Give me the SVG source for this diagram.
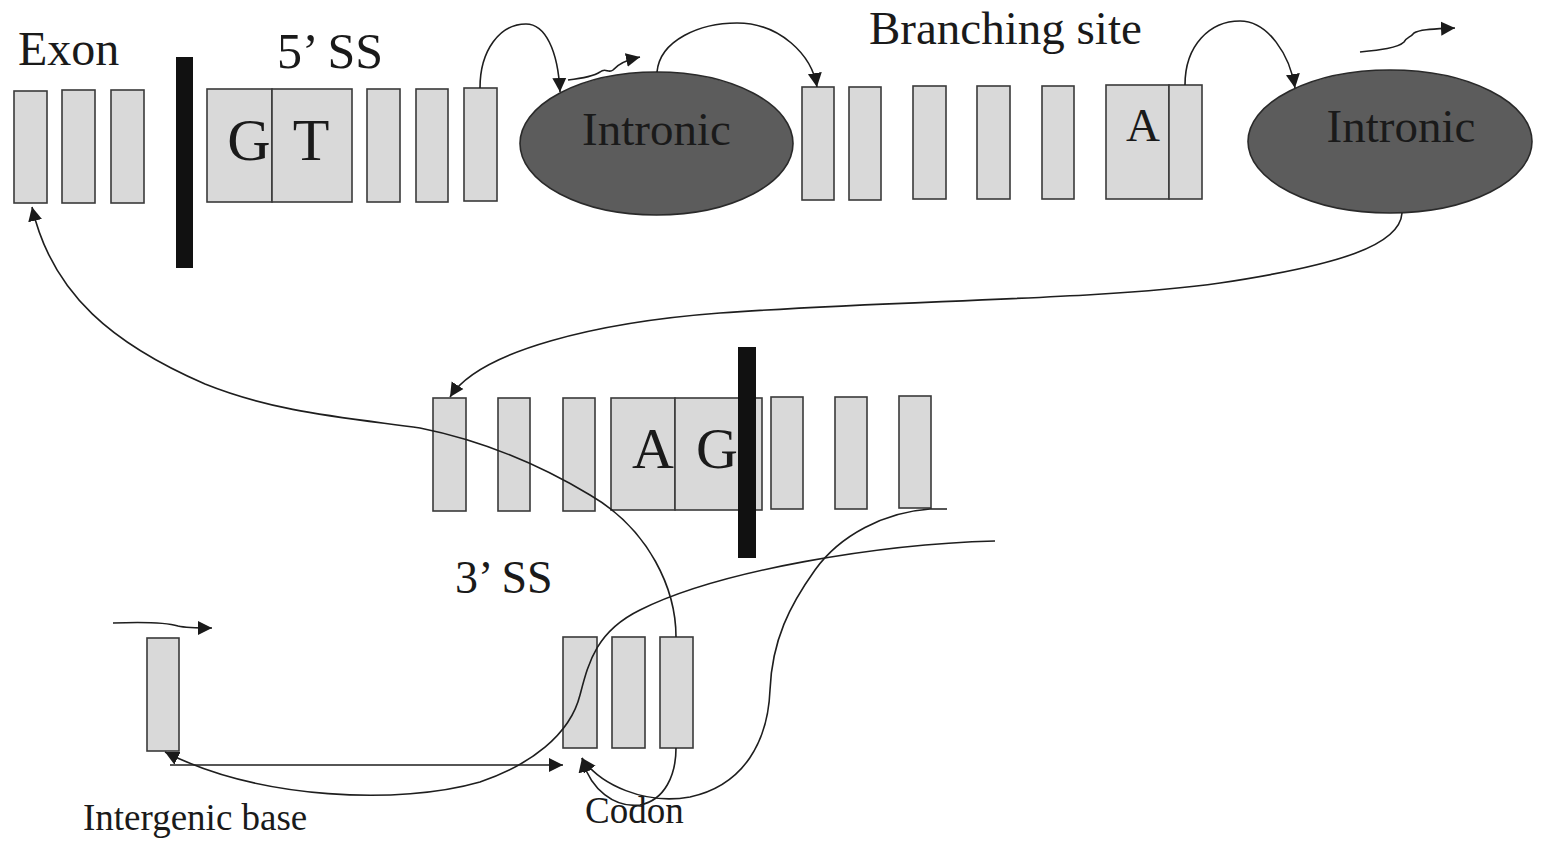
<svg xmlns="http://www.w3.org/2000/svg" width="1547" height="842" viewBox="0 0 1547 842">
<style>
.b{fill:#d9d9d9;stroke:#3a3a3a;stroke-width:1.6}
.bar{fill:#111}
.ell{fill:#5c5c5c;stroke:#2a2a2a;stroke-width:1.6}
.t{font-family:"Liberation Serif","Times New Roman",serif;fill:#1a1a1a}
.c{fill:none;stroke:#1e1e1e;stroke-width:1.6}
</style>
<defs>
<marker id="ah" markerUnits="userSpaceOnUse" markerWidth="15" markerHeight="15" viewBox="0 0 15 15" refX="14" refY="7.5" orient="auto">
<path d="M0,0.5 L14,7.5 L0,14.5 Z" fill="#1a1a1a"/>
</marker>
</defs>
<rect width="1547" height="842" fill="#fff"/>

<g id="labels">
<text class="t" x="18" y="65" font-size="48">Exon</text>
<text class="t" x="277" y="68" font-size="50">5’ SS</text>
<text class="t" x="869" y="44" font-size="47">Branching site</text>
<text class="t" x="455" y="593" font-size="46">3’ SS</text>
<text class="t" x="83" y="830" font-size="37">Intergenic base</text>
<text class="t" x="585" y="823" font-size="37">Codon</text>
</g>

<g id="exon">
<rect class="b" x="14" y="91" width="33" height="112"/>
<rect class="b" x="62" y="90" width="33" height="113"/>
<rect class="b" x="111" y="90" width="33" height="113"/>
</g>
<g id="splice5-bar"><rect class="bar" x="176" y="57" width="17" height="211"/></g>
<g id="gt">
<rect class="b" x="207" y="89" width="65" height="113"/>
<rect class="b" x="272" y="89" width="80" height="113"/>
<text class="t" x="249" y="160" font-size="60" text-anchor="middle">G</text>
<text class="t" x="311" y="160" font-size="60" text-anchor="middle">T</text>
</g>
<g id="intron5">
<rect class="b" x="367" y="89" width="33" height="113"/>
<rect class="b" x="416" y="89" width="32" height="113"/>
<rect class="b" x="464" y="88" width="33" height="113"/>
</g>
<g id="intronic1">
<ellipse class="ell" cx="656.5" cy="143.5" rx="136.5" ry="71.5"/>
<text class="t" x="656.5" y="145" font-size="47" text-anchor="middle">Intronic</text>
</g>
<g id="branch">
<rect class="b" x="802" y="87" width="32" height="113"/>
<rect class="b" x="849" y="87" width="32" height="113"/>
<rect class="b" x="913" y="86" width="33" height="113"/>
<rect class="b" x="977" y="86" width="33" height="113"/>
<rect class="b" x="1042" y="86" width="32" height="113"/>
<rect class="b" x="1106" y="85" width="63" height="114"/>
<rect class="b" x="1169" y="85" width="33" height="114"/>
<text class="t" x="1143" y="141" font-size="47" text-anchor="middle">A</text>
</g>
<g id="intronic2">
<ellipse class="ell" cx="1390" cy="141.5" rx="142" ry="71.5"/>
<text class="t" x="1401" y="142" font-size="47" text-anchor="middle">Intronic</text>
</g>

<g id="splice3">
<rect class="b" x="433" y="398" width="33" height="113"/>
<rect class="b" x="498" y="398" width="32" height="113"/>
<rect class="b" x="563" y="398" width="32" height="113"/>
<rect class="b" x="611" y="398" width="64" height="112"/>
<rect class="b" x="675" y="398" width="87" height="112"/>
<text class="t" x="653" y="468" font-size="58" text-anchor="middle">A</text>
<text class="t" x="717" y="468" font-size="58" text-anchor="middle">G</text>
<rect class="b" x="771" y="397" width="32" height="112"/>
<rect class="b" x="835" y="397" width="32" height="112"/>
<rect class="b" x="899" y="396" width="32" height="112"/>
</g>
<g id="splice3-bar"><rect class="bar" x="738" y="347" width="18" height="211"/></g>

<g id="intergenic"><rect class="b" x="147" y="638" width="32" height="113"/></g>
<g id="codon">
<rect class="b" x="563" y="637" width="34" height="111"/>
<rect class="b" x="612" y="637" width="33" height="111"/>
<rect class="b" x="660" y="637" width="33" height="111"/>
</g>

<g id="connectors">
<path class="c" d="M480,88 C480,50 500,24 526,24 C545,24 558,50 560,92" marker-end="url(#ah)"/>
<path class="c" d="M568,80 C585,78 594,76 600,72 C606,67 608,74 613,70 C618,64 626,60 640,57" marker-end="url(#ah)"/>
<path class="c" d="M657,72 C660,40 700,23 737,23 C780,23 812,55 817,87" marker-end="url(#ah)"/>
<path class="c" d="M1185,85 C1185,45 1210,21 1240,21 C1268,21 1290,55 1295,88" marker-end="url(#ah)"/>
<path class="c" d="M1360,52 C1380,50 1398,48 1404,42 C1408,36 1410,38 1414,33 C1420,29 1435,29 1455,28" marker-end="url(#ah)"/>
<path class="c" d="M1402,213 C1400,245 1340,265 1220,283 C1100,300 900,300 720,313 C600,322 480,350 450,397" marker-end="url(#ah)"/>
<path class="c" d="M676,637 C676,590 650,530 590,495 C540,465 480,440 420,428 C340,417 275,412 205,384 C115,345 52,295 32,207" marker-end="url(#ah)"/>
<path class="c" d="M947,509 L930,509 C885,512 840,535 815,570 C790,605 772,640 770,690 C768,740 745,785 690,797 C645,805 600,785 582,758" marker-end="url(#ah)"/>
<path class="c" d="M676,748 C676,775 665,800 640,805 C615,808 590,790 582,758" marker-end="url(#ah)"/>
<path class="c" d="M995,541 C880,544 720,570 640,610 C595,632 588,665 580,695 C570,735 530,765 480,782 C400,805 260,800 165,752" marker-end="url(#ah)"/>
<path class="c" d="M170,765 L563,765" marker-end="url(#ah)"/>
<path class="c" d="M113,623 C140,622 165,622 178,626 C186,628 195,628 212,628" marker-end="url(#ah)"/>
</g>
</svg>
